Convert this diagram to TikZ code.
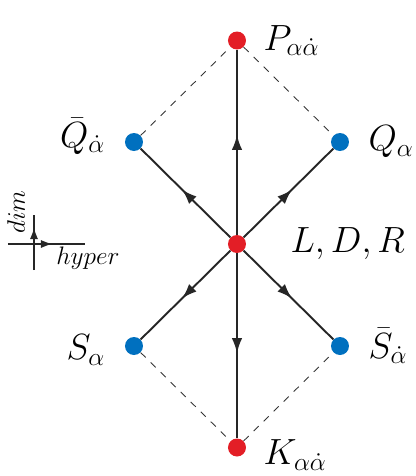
\documentclass[tikz,border=0pt]{standalone}
\usetikzlibrary{arrows.meta,positioning,decorations.markings}
\definecolor{susyRed}{HTML}{E31E26}
\definecolor{susyBlue}{HTML}{0070BF}
\tikzset{
  >={Latex[length=3mm,width=2.1mm]},
  bos/.style={circle, fill=susyRed, inner sep=0pt, minimum size=3.6mm},
  ferm/.style={circle, fill=susyBlue, inner sep=0pt, minimum size=3.6mm},
  lbl/.style={inner sep=0pt, font=\huge},
  axlbl/.style={inner sep=0pt, font=\Large},
  flow/.style={draw=black!85, line width=1.1pt, postaction={decorate},
    decoration={markings, mark=at position 0.54 with {\arrow{>}}}},
  rim/.style={draw=black!80, line width=0.5pt, dash pattern=on 4pt off 4pt},
  axline/.style={draw=black!85, line width=0.8pt},
}

\begin{document}
\begin{tikzpicture}
    \useasboundingbox (-4.74,-4.64) rectangle (3.58,4.88);
    % generators
    \node[bos] (c) at (0,0) {};
    \node[bos] (P) at (0,4.07) {};
    \node[bos] (K) at (0,-4.07) {};
    \node[ferm] (Q) at (2.06,2.04) {};
    \node[ferm] (Qb) at (-2.06,2.04) {};
    \node[ferm] (S) at (-2.06,-2.04) {};
    \node[ferm] (Sb) at (2.06,-2.04) {};
    \foreach \t in {P,K,Q,Qb,S,Sb} \draw[flow] (c) -- (\t);
    \draw[rim] (Qb) -- (P) -- (Q);
    \draw[rim] (S) -- (K) -- (Sb);
    % labels
    \node[lbl, right=0.34cm of P] (Plbl) {$P_{\alpha\dot\alpha}$};
    \node[lbl, left=0.38cm of Qb, yshift=0.12cm] (Qblbl) {$\bar Q_{\dot\alpha}$};
    \node[lbl, right=0.38cm of Q] (Qlbl) {$Q_\alpha$};
    \node[lbl, right=0.88cm of c] (clbl) {$L, D, R$};
    \node[lbl, left=0.38cm of S, yshift=-0.08cm] (Slbl) {$S_\alpha$};
    \node[lbl, right=0.38cm of Sb] (Sblbl) {$\bar S_{\dot\alpha}$};
    \node[lbl, right=0.34cm of K, yshift=-0.15cm] (Klbl) {$K_{\alpha\dot\alpha}$};
    % grading axes
    \coordinate (o) at (-4.06,0);
    \coordinate (up) at (-4.06,0.58);
    \coordinate (dn) at (-4.06,-0.52);
    \coordinate (lf) at (-4.58,0);
    \coordinate (rt) at (-3.04,0);
    \coordinate (dimtip) at (-4.06,0.33);
    \coordinate (hyptip) at (-3.69,0);
    \draw[axline] (dn) -- (up);
    \draw[axline] (lf) -- (rt);
    \draw[axline,-{Latex[length=2.3mm,width=1.6mm]}] (o) -- (dimtip);
    \draw[axline,-{Latex[length=2.3mm,width=1.6mm]}] (o) -- (hyptip);
    \node[axlbl, rotate=90] (dimlbl) at (-4.42,0.64) {$dim$};
    \node[axlbl] (hyplbl) at (-2.98,-0.28) {$hyper$};
\end{tikzpicture}
\end{document}
